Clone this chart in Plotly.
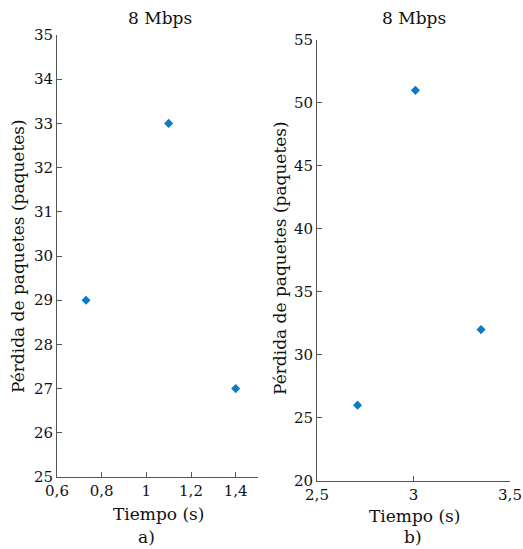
import plotly.graph_objects as go

# Packet loss vs. time at 8 Mbps, two test runs
time_a = [0.73, 1.1, 1.4]
loss_a = [29, 33, 27]
time_b = [2.71, 3.01, 3.35]
loss_b = [26, 51, 32]

xticks_a = [0.6, 0.8, 1.0, 1.2, 1.4]
xticklabels_a = ["0,6", "0,8", "1", "1,2", "1,4"]
yticks_a = [25, 26, 27, 28, 29, 30, 31, 32, 33, 34, 35]
xticks_b = [2.5, 3.0, 3.5]
xticklabels_b = ["2,5", "3", "3,5"]
yticks_b = [20, 25, 30, 35, 40, 45, 50, 55]

panel_title = "8 Mbps"
ylabel = "Pérdida de paquetes (paquetes)"
xlabel = "Tiempo (s)"
panel_tags = ["a)", "b)"]

W, H = 523, 549
FONT = "DejaVu Serif"
MARK = "#0A7BC8"
AXIS = "#555555"

fig = go.Figure()
fig.add_trace(go.Scatter(x=time_a, y=loss_a, mode="markers", xaxis="x", yaxis="y",
                         marker=dict(symbol="diamond", size=7, color=MARK), showlegend=False))
fig.add_trace(go.Scatter(x=time_b, y=loss_b, mode="markers", xaxis="x2", yaxis="y2",
                         marker=dict(symbol="diamond", size=7, color=MARK), showlegend=False))

def px_x(p):
    return p / W

def px_y(p):
    return 1 - p / H

axis_common = dict(showline=True, linecolor=AXIS, linewidth=1, ticks="inside", ticklen=5,
                   tickcolor=AXIS, showgrid=False, zeroline=False, automargin=False,
                   ticklabeloverflow="allow",
                   tickfont=dict(family=FONT, size=15, color="#111111"))

fig.update_layout(
    width=W, height=H, margin=dict(l=0, r=0, t=0, b=0, pad=0, autoexpand=False),
    paper_bgcolor="white", plot_bgcolor="white",
    font=dict(family=FONT),
    xaxis=dict(domain=[px_x(57), px_x(258)], range=[0.6, 1.5], anchor="y",
               tickvals=xticks_a, ticktext=xticklabels_a, **axis_common),
    yaxis=dict(domain=[px_y(477), px_y(35)], range=[25, 35], anchor="x",
               tickvals=yticks_a, **axis_common),
    xaxis2=dict(domain=[px_x(317), px_x(510)], range=[2.5, 3.5], anchor="y2",
                tickvals=xticks_b, ticktext=xticklabels_b, **axis_common),
    yaxis2=dict(domain=[px_y(480.7), px_y(40)], range=[20, 55], anchor="x2",
                tickvals=yticks_b, **axis_common),
)

def note(text, x, y, size=17, angle=0):
    fig.add_annotation(text=text, x=px_x(x), y=px_y(y), xref="paper", yref="paper",
                       showarrow=False, textangle=angle, xanchor="center", yanchor="middle",
                       font=dict(family=FONT, size=size, color="#111111"))

# panel titles
note(panel_title, 160, 18)
note(panel_title, 414, 18)
# axis titles
note(ylabel, 18, 256, angle=-90)
note(ylabel, 280, 258, angle=-90)
note(xlabel, 158, 514)
note(xlabel, 414, 516)
# panel tags
note(panel_tags[0], 146, 537)
note(panel_tags[1], 413, 537)

fig.write_html("out.html")
